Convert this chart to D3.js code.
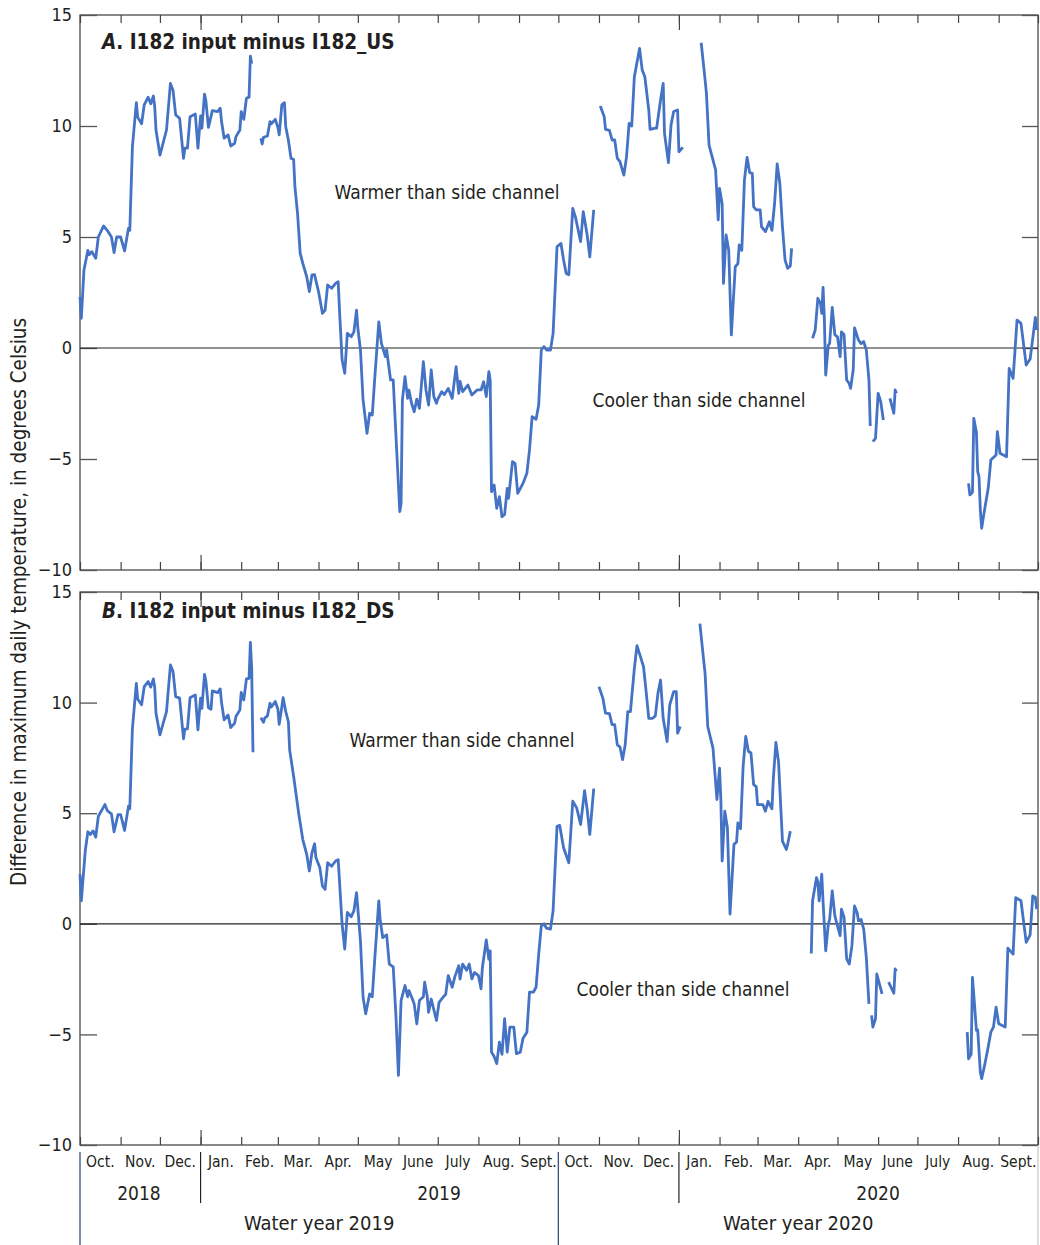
<!DOCTYPE html>
<html>
<head>
<meta charset="utf-8">
<script src="https://cdn.jsdelivr.net/npm/d3@7"></script>
<style>
  body { margin: 0; background: #fff; }
  svg { display: block; }
</style>
</head>
<body>
<div id="chart"></div>
<script>
// Daily max temperature difference, [days since 2018-10-01, deg C]; null = gap in record
const seriesUS = [
  [0,2.3],[1,1.34],[3,3.5],[6,4.4],[7,4.2],[9,4.34],[12,4.04],[14,5.0],[18,5.5],[21,5.28],[24,5.0],[26,4.3],[28,5.0],[31,5.0],[34,4.37],[37,5.39],[38,5.3],[40,9.07],[43,11.05],[44,10.4],[47,10.1],[49,10.95],[52,11.3],[54,11.0],[56,11.35],[57,10.87],[58,9.82],[61,8.69],[63,9.14],[66,9.82],[69,11.92],[71,11.6],[73,10.5],[76,10.35],[79,8.54],[80,9.0],[82,9.0],[84,10.42],[88,10.54],[90,9.0],[92,10.45],[93,9.9],[95,11.44],[96,11.17],[98,9.94],[101,10.69],[105,10.65],[107,10.8],[108,10.2],[110,9.45],[113,9.6],[115,9.1],[118,9.22],[119,9.52],[122,9.82],[123,10.65],[125,10.3],[127,11.25],[129,11.3],[130,13.15],[131,12.8],
  null,
  [138,9.45],[139,9.19],[140,9.49],[143,9.55],[145,10.2],[146,10.1],[149,10.3],[151,9.94],[152,9.6],[154,10.95],[156,11.05],[157,9.97],[159,9.37],[161,8.54],[163,8.5],[164,7.27],[166,6.06],[167,5.17],[168,4.27],[170,3.81],[173,3.21],[175,2.54],[177,3.29],[179,3.3],[182,2.54],[185,1.56],[187,1.71],[189,2.84],[192,2.69],[195,2.91],[197,2.99],[198,1.71],[200,-0.54],[202,-1.14],[204,0.66],[207,0.51],[209,0.73],[211,1.71],[212,0.9],[214,-0.09],[216,-2.34],[219,-3.84],[221,-2.94],[223,-3.02],[225,-1.29],[228,1.18],[230,0.21],[233,-0.39],[234,-0.09],[237,-1.44],[239,-1.44],[241,-3.84],[244,-7.37],[245,-7.0],[246,-2.34],[248,-1.29],[250,-2.27],[251,-1.9],[253,-2.49],[255,-2.87],[257,-2.3],[259,-2.72],[262,-0.62],[264,-1.89],[266,-2.57],[268,-0.99],[270,-2.19],[272,-2.49],[273,-2.3],[276,-1.97],[278,-2.1],[281,-1.82],[284,-2.27],[287,-0.84],[289,-2.04],[290,-1.5],[292,-1.97],[296,-1.67],[299,-2.12],[303,-1.89],[306,-1.89],[308,-1.52],[310,-2.19],[312,-1.07],[313,-1.44],[314,-6.47],[316,-6.17],[318,-7.22],[320,-6.7],[322,-7.6],[324,-7.5],[326,-6.32],[327,-6.77],[330,-5.12],[332,-5.2],[334,-6.55],[338,-6.1],[341,-5.64],[343,-4.59],[345,-3.09],[348,-3.21],[350,-2.57],[352,-0.09],[354,0.06],[356,-0.09],[359,-0.09],[361,0.66],[364,4.56],[367,4.71],[369,3.96],[371,3.36],[373,3.3],[376,6.29],[378,5.91],[382,4.79],[384,6.14],[387,5.09],[389,4.11],[392,6.22],
  null,
  [397,10.9],[400,10.42],[401,9.85],[404,9.8],[406,9.37],[408,9.37],[410,8.54],[412,8.4],[415,7.79],[417,8.6],[419,10.12],[421,10.0],[423,12.22],[427,13.5],[429,12.52],[431,12.22],[434,10.72],[435,9.85],[439,9.9],[440,9.9],[443,11.17],[445,11.92],[446,9.67],[449,8.35],[451,10.05],[453,10.65],[456,10.72],[457,8.84],[460,9.04],
  null,
  [474,13.75],[477,12.07],[478,11.47],[480,9.14],[485,8.02],[487,5.77],[488,7.19],[490,6.5],[491,2.91],[493,5.09],[495,4.41],[497,0.59],[500,3.66],[502,3.8],[503,4.64],[505,4.4],[507,7.57],[509,8.59],[511,7.9],[513,7.87],[514,6.37],[516,6.22],[519,6.22],[520,5.47],[523,5.24],[526,5.69],[528,5.3],[530,6.52],[532,8.29],[534,7.42],[536,5.47],[538,3.96],[540,3.59],[542,3.7],[543,4.49],
  null,
  [559,0.44],[561,0.81],[563,2.24],[565,2.01],[566,1.56],[567,2.73],[568,1.26],[569,-1.22],[571,0.13],[572,0.2],[574,1.83],[576,0.59],[578,0.5],[580,-0.39],[581,0.73],[583,0.6],[585,-1.44],[587,-1.6],[588,-1.82],[590,-0.99],[591,0.91],[594,0.36],[596,0.2],[598,0.29],[600,-0.09],[602,-1.44],[603,-3.51],
  null,
  [605,-4.22],[607,-4.07],[609,-2.04],[611,-2.42],[613,-3.24],
  null,
  [618,-2.27],[621,-2.94],[622,-1.89],[623,-2.04],
  null,
  [678,-6.1],[679,-6.62],[681,-6.5],[682,-3.17],[684,-3.8],[685,-5.57],[686,-5.8],[687,-7.3],[688,-8.12],[690,-7.37],[693,-6.32],[695,-5.05],[699,-4.82],[700,-3.77],[702,-4.74],[707,-4.9],[709,-0.92],[712,-1.37],[715,1.26],[718,1.11],[722,-0.77],[725,-0.5],[729,1.38],[730,0.81]
];

const seriesDS = [
  [0,2.24],[1,1.04],[4,3.29],[6,4.16],[8,4.04],[10,4.2],[12,3.92],[14,4.86],[19,5.39],[21,5.1],[24,4.97],[26,4.16],[29,4.94],[31,4.94],[34,4.22],[37,5.32],[38,5.2],[40,8.84],[43,10.87],[44,10.16],[47,9.9],[49,10.72],[52,10.95],[54,10.7],[56,11.07],[57,10.7],[58,9.52],[61,8.54],[63,8.97],[66,9.59],[69,11.7],[71,11.4],[73,10.27],[76,10.2],[79,8.36],[80,8.8],[82,8.81],[84,10.22],[88,10.35],[90,8.77],[92,10.2],[93,9.74],[95,11.28],[96,11.0],[98,9.77],[100,9.7],[101,10.53],[105,10.45],[107,10.62],[108,10.0],[110,9.22],[113,9.44],[115,8.87],[118,9.07],[119,9.37],[122,9.67],[123,10.46],[125,10.12],[127,11.07],[129,11.1],[130,12.72],[131,11.55],[132,7.76],
  null,
  [138,9.32],[140,9.11],[141,9.3],[143,9.4],[145,9.97],[146,9.8],[149,10.05],[151,9.7],[152,9.02],[154,9.8],[155,10.22],[157,9.59],[159,9.14],[160,7.85],[163,6.67],[167,4.94],[170,3.81],[173,3.14],[175,2.39],[177,3.21],[179,3.62],[180,3.0],[183,2.54],[185,1.71],[187,1.56],[189,2.76],[192,2.6],[195,2.84],[197,2.9],[198,1.94],[200,-0.02],[202,-1.14],[204,0.51],[207,0.32],[209,0.59],[211,1.41],[212,0.7],[214,-0.77],[216,-3.32],[218,-4.07],[221,-3.17],[223,-3.3],[225,-1.52],[228,1.04],[229,0.2],[231,-0.62],[234,-0.5],[236,-1.82],[239,-1.95],[241,-4.07],[243,-6.85],[245,-3.47],[248,-2.79],[250,-3.3],[251,-3.02],[253,-3.3],[255,-3.62],[257,-4.52],[259,-3.47],[262,-3.3],[263,-2.64],[265,-3.3],[266,-4.0],[268,-3.4],[272,-4.37],[274,-3.55],[277,-3.32],[279,-3.2],[281,-2.34],[284,-2.87],[286,-2.4],[289,-1.89],[290,-2.5],[292,-1.82],[295,-2.1],[297,-1.82],[299,-2.49],[301,-2.2],[304,-2.34],[306,-2.94],[307,-2.0],[310,-0.73],[312,-1.6],[313,-1.22],[314,-5.8],[316,-6.0],[318,-6.32],[320,-5.35],[322,-5.9],[324,-4.29],[326,-5.8],[328,-4.67],[331,-4.67],[333,-5.87],[336,-5.8],[338,-5.19],[341,-4.9],[343,-3.09],[346,-3.09],[348,-2.87],[350,-1.37],[352,-0.09],[354,0.0],[356,-0.2],[359,-0.24],[361,0.59],[364,4.41],[366,4.45],[369,3.44],[373,2.76],[376,5.54],[379,5.24],[382,4.49],[385,6.02],[387,5.17],[389,4.04],[392,6.11],
  null,
  [396,10.72],[399,10.19],[401,9.52],[404,9.5],[406,9.0],[408,9.0],[410,8.09],[412,8.0],[414,7.42],[416,8.09],[418,9.59],[420,9.59],[423,11.55],[425,12.57],[427,12.2],[430,11.62],[432,10.5],[434,9.29],[437,9.29],[439,9.4],[441,10.42],[443,11.02],[445,9.29],[448,8.24],[450,9.9],[453,10.5],[455,10.5],[456,8.62],[458,8.92],
  null,
  [473,13.57],[476,11.85],[477,11.3],[479,8.92],[483,7.94],[486,5.62],[488,7.04],[489,5.6],[490,2.84],[492,5.09],[494,4.34],[496,0.44],[499,3.59],[501,3.7],[502,4.56],[504,4.3],[506,7.12],[508,8.47],[510,7.8],[512,7.72],[514,6.29],[516,6.2],[517,5.39],[521,5.39],[523,5.09],[525,5.54],[528,5.2],[529,6.52],[531,8.2],[533,7.34],[535,4.94],[536,3.74],[539,3.36],[540,3.6],[542,4.19],
  null,
  [558,-1.34],[559,1.04],[562,2.09],[563,1.9],[564,1.04],[566,2.24],[567,1.0],[569,-1.22],[571,-0.02],[572,0.2],[574,1.49],[576,0.36],[578,-0.1],[580,-0.54],[581,0.66],[583,0.3],[585,-1.59],[587,-1.82],[589,-0.99],[591,0.81],[593,0.5],[594,0.14],[596,0.2],[598,-0.24],[600,-1.52],[602,-3.62],
  null,
  [604,-4.14],[605,-4.67],[607,-4.3],[608,-2.27],[610,-2.72],[612,-3.17],
  null,
  [617,-2.64],[621,-3.14],[622,-2.04],[623,-2.15],
  null,
  [677,-4.9],[678,-6.1],[680,-5.9],[681,-2.42],[682,-3.2],[684,-4.82],[685,-4.8],[687,-6.7],[688,-7.0],[690,-6.47],[693,-5.57],[695,-4.9],[697,-4.67],[699,-3.77],[701,-4.52],[706,-4.67],[708,-1.1],[712,-1.37],[714,1.18],[718,1.04],[722,-0.84],[725,-0.5],[727,1.26],[729,1.2],[730,0.66]
];

const yTicks = [-10, -5, 0, 5, 10, 15];
const monthLabels = ["Oct.", "Nov.", "Dec.", "Jan.", "Feb.", "Mar.", "Apr.", "May", "June", "July", "Aug.", "Sept."];
const yearLabels = ["2018", "2019", "2020"];
const yearLabelDates = ["2018-11-15", "2019-07-02", "2020-06-01"];
const waterYearLabels = ["Water year 2019", "Water year 2020"];
const waterYearStarts = ["2018-10-01", "2019-10-01", "2020-10-01"];

const font = '"Liberation Sans Narrow", "DejaVu Sans Condensed", "Liberation Sans", sans-serif';
const width = 1040;
const height = 1245;
const plotLeft = 80;
const plotRight = 1038;
const lineColor = "#4472c4";
const textColor = "#231f20";

const parse = d3.utcParse("%Y-%m-%d");
const startDate = parse(waterYearStarts[0]);
const endDate = parse(waterYearStarts[2]);

const svg = d3.select("#chart")
  .append("svg")
  .attr("width", width)
  .attr("height", height)
  .style("font-family", font);

const x = d3.scaleUtc()
  .domain([startDate, endDate])
  .range([plotLeft, plotRight]);

function toPoints(series) {
  return series.map(p => p ? { date: d3.utcDay.offset(startDate, p[0]), v: p[1] } : null);
}

function drawPanel(series, titleLetter, titleText, top, bottom, titleY, warm, cool) {
  const y = d3.scaleLinear().domain([-10, 15]).range([bottom, top]);
  const g = svg.append("g");

  // frame
  g.append("rect")
    .attr("x", plotLeft).attr("y", top)
    .attr("width", plotRight - plotLeft).attr("height", bottom - top)
    .attr("fill", "none").attr("stroke", "#3b3b3b").attr("stroke-width", 1.2);

  // y axes (ticks inside)
  g.append("g")
    .attr("transform", `translate(${plotLeft},0)`)
    .call(d3.axisLeft(y).tickValues(yTicks).tickSize(-17).tickPadding(8))
    .call(a => a.select(".domain").remove())
    .call(a => a.selectAll("line").attr("stroke", "#555").attr("stroke-width", 1.3))
    .call(a => a.selectAll("text").attr("font-family", font).style("font-size", "18px").attr("fill", textColor));

  g.append("g")
    .attr("transform", `translate(${plotRight},0)`)
    .call(d3.axisRight(y).tickValues(yTicks).tickSize(-16).tickFormat(""))
    .call(a => a.select(".domain").remove())
    .call(a => a.selectAll("line").attr("stroke", "#555").attr("stroke-width", 1.3));

  // month / year ticks on top and bottom
  const monthTicks = d3.utcMonth.range(startDate, d3.utcDay.offset(endDate, 1));
  const yearTicks = d3.utcYear.range(startDate, endDate);
  [[d3.axisTop, top, -8, -15], [d3.axisBottom, bottom, -8, -15]].forEach(([axis, pos, small, big]) => {
    g.append("g")
      .attr("transform", `translate(0,${pos})`)
      .call(axis(x).tickValues(monthTicks).tickSize(small).tickFormat(""))
      .call(a => a.select(".domain").remove())
      .call(a => a.selectAll("line").attr("stroke", "#444").attr("stroke-width", 1.2));
    g.append("g")
      .attr("transform", `translate(0,${pos})`)
      .call(axis(x).tickValues(yearTicks).tickSize(big).tickFormat(""))
      .call(a => a.select(".domain").remove())
      .call(a => a.selectAll("line").attr("stroke", "#444").attr("stroke-width", 1.2));
  });

  // zero line
  g.append("line")
    .attr("x1", plotLeft).attr("x2", plotRight)
    .attr("y1", y(0)).attr("y2", y(0))
    .attr("stroke", "#222").attr("stroke-width", 1.2);

  // data line
  const line = d3.line()
    .defined(d => d !== null)
    .x(d => x(d.date))
    .y(d => y(d.v));

  g.append("path")
    .datum(toPoints(series))
    .attr("fill", "none")
    .attr("stroke", lineColor)
    .attr("stroke-width", 2.8)
    .attr("stroke-linejoin", "round")
    .attr("d", line);

  // panel title
  const t = g.append("text")
    .attr("x", 102).attr("y", titleY)
    .attr("fill", textColor)
    .style("font-size", "20.5px")
    .attr("font-weight", "bold");
  t.append("tspan").attr("font-style", "italic").text(titleLetter);
  t.append("tspan").text(titleText);

  // annotations
  [warm, cool].forEach(n => {
    g.append("text")
      .attr("x", n.x).attr("y", n.y)
      .attr("text-anchor", "middle")
      .attr("fill", textColor)
      .style("font-size", "19px")
      .text(n.text);
  });
}

drawPanel(seriesUS, "A", ". I182 input minus I182_US", 15, 570, 49,
  { text: "Warmer than side channel", x: 447, y: 199 },
  { text: "Cooler than side channel", x: 699, y: 407 });

drawPanel(seriesDS, "B", ". I182 input minus I182_DS", 592, 1145, 618,
  { text: "Warmer than side channel", x: 462, y: 747 },
  { text: "Cooler than side channel", x: 683, y: 996 });

// y axis title
svg.append("text")
  .attr("transform", `translate(26,602) rotate(-90)`)
  .attr("text-anchor", "middle")
  .attr("fill", textColor)
  .style("font-size", "20.5px")
  .text("Difference in maximum daily temperature, in degrees Celsius");

// month labels under the lower panel
const months = d3.utcMonth.range(startDate, endDate);
svg.append("g")
  .selectAll("text")
  .data(months)
  .join("text")
  .attr("x", d => (x(d) + x(d3.utcMonth.offset(d, 1))) / 2)
  .attr("y", 1167)
  .attr("text-anchor", "middle")
  .attr("fill", textColor)
  .style("font-size", "15.5px")
  .text(d => monthLabels[(d.getUTCMonth() + 3) % 12]);

// calendar year labels
svg.append("g")
  .selectAll("text")
  .data(yearLabels)
  .join("text")
  .attr("x", (d, i) => x(parse(yearLabelDates[i])))
  .attr("y", 1200)
  .attr("text-anchor", "middle")
  .attr("fill", textColor)
  .style("font-size", "19px")
  .text(d => d);

// water year labels
svg.append("g")
  .selectAll("text")
  .data(waterYearLabels)
  .join("text")
  .attr("x", (d, i) => (x(parse(waterYearStarts[i])) + x(parse(waterYearStarts[i + 1]))) / 2)
  .attr("y", 1230)
  .attr("text-anchor", "middle")
  .attr("fill", textColor)
  .style("font-size", "20px")
  .text(d => d);

// separators
svg.append("g")
  .selectAll("line")
  .data(waterYearStarts.slice(0, 2))
  .join("line")
  .attr("x1", d => x(parse(d))).attr("x2", d => x(parse(d)))
  .attr("y1", 1152).attr("y2", 1245)
  .attr("stroke", "#35507a").attr("stroke-width", 1.3);

svg.append("g")
  .selectAll("line")
  .data(d3.utcYear.range(startDate, endDate))
  .join("line")
  .attr("x1", d => x(d)).attr("x2", d => x(d))
  .attr("y1", 1152).attr("y2", 1203)
  .attr("stroke", "#222").attr("stroke-width", 1.2);

svg.append("line")
  .attr("x1", plotRight).attr("x2", plotRight)
  .attr("y1", 1145).attr("y2", 1245)
  .attr("stroke", "#bbb").attr("stroke-width", 1);
</script>
</body>
</html>
